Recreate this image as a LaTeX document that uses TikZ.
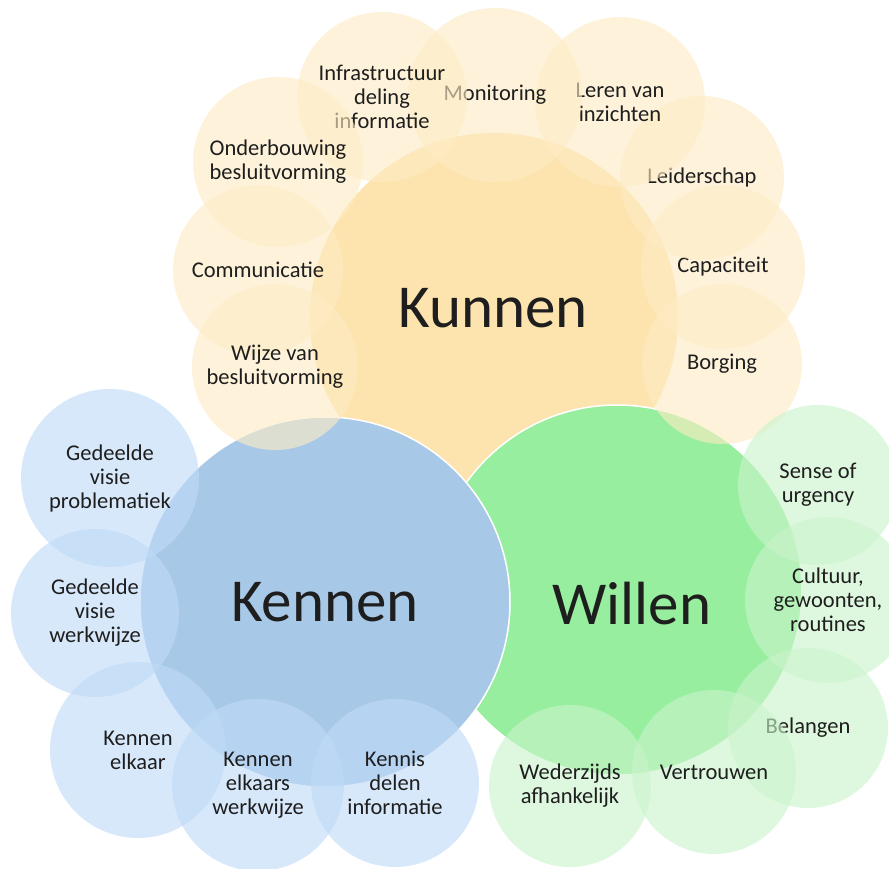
\documentclass[tikz,border=0pt]{standalone}
\usepackage{fontspec}
\setmainfont{Carlito}
\definecolor{kunnenyellow}{HTML}{FDE4AE}
\definecolor{kennenblue}{HTML}{A8C8E8}
\definecolor{willengreen}{HTML}{96EE9E}
\definecolor{kunnenlight}{HTML}{FDECC4}
\definecolor{kennenlight}{HTML}{BFDAF7}
\definecolor{willenlight}{HTML}{CAF3CB}
\definecolor{labeltext}{HTML}{1E1E1E}
\begin{document}
\begin{tikzpicture}[x=1pt, y=-1pt,
	bigcirc/.style={circle, fill=#1, draw=white, line width=1.5pt, inner sep=0pt, minimum size=370pt},
	smallcirc/.style={circle, fill=#1, fill opacity=.62, text opacity=1, text=labeltext, inner sep=0pt, align=center, font=\fontsize{22.5}{24}\selectfont},
	bigword/.style={text=labeltext, font=\fontsize{61}{61}\selectfont}]
	\useasboundingbox (0, 0) rectangle (889, 869);
	\node[bigcirc=kunnenyellow] (kunnen) at (494, 317) {};
	\node[bigcirc=willengreen] (willen) at (617, 590) {};
	\node[bigcirc=kennenblue] (kennen) at (325, 602) {};
	\foreach \nm/\x/\y/\r/\txt in {borging/722/364/80/Borging, capaciteit/723/267/82/Capaciteit,
			leiderschap/702/178/82/Leiderschap, leren/620/102/85/{Leren van\\inzichten},
			monitoring/495/95/87/Monitoring, infra/382/97/85/{Infrastructuur\\deling\\informatie},
			onderbouwing/278/162/85/{Onderbouwing\\besluitvorming}, communicatie/258/270/85/Communicatie,
			wijze/275/367/83/{Wijze van\\besluitvorming}} {
		\node[smallcirc=kunnenlight, minimum size=2*\r] (\nm) at (\x, \y) {\txt};
	}
	\foreach \nm/\x/\y/\r/\txt in {visieprob/110/478/89/{Gedeelde\\visie\\problematiek},
			visiewerk/95/613/84/{Gedeelde\\visie\\werkwijze}, elkaar/138/750/88/{Kennen\\elkaar},
			elkaarswerk/258/785/86/{Kennen\\elkaars\\werkwijze}, kennisdelen/395/783/84/{Kennis\\delen\\informatie}} {
		\node[smallcirc=kennenlight, minimum size=2*\r] (\nm) at (\x, \y) {\txt};
	}
	\foreach \nm/\x/\y/\r/\txt in {urgency/818/485/80/{Sense of\\urgency},
			cultuur/828/600/83/{Cultuur,\\gewoonten,\\routines}, belangen/808/728/80/Belangen,
			vertrouwen/714/772/82/Vertrouwen, wederzijds/570/786/81/{Wederzijds\\afhankelijk}} {
		\node[smallcirc=willenlight, minimum size=2*\r] (\nm) at (\x, \y) {\txt};
	}
	\node[bigword] (kunnenlabel) at (493, 308) {Kunnen};
	\node[bigword] (kennenlabel) at (325, 602) {Kennen};
	\node[bigword] (willenlabel) at (632, 604) {Willen};
\end{tikzpicture}
\end{document}
